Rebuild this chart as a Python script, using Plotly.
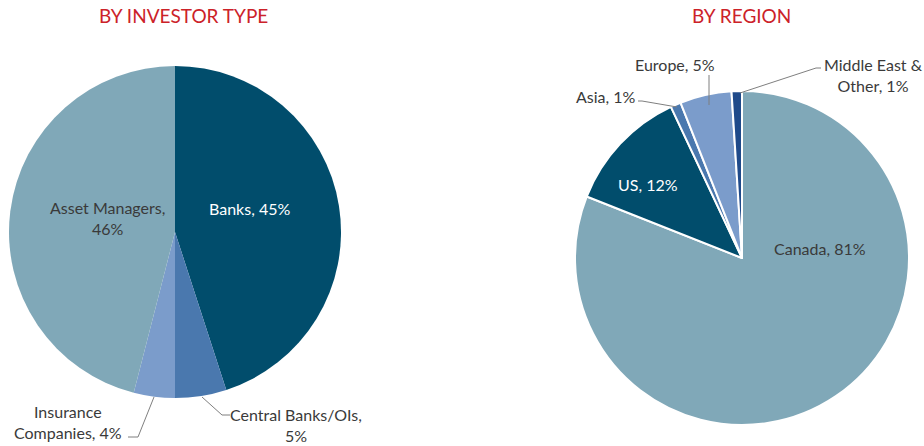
import plotly.graph_objects as go

W, H = 924, 446

inv_labels = ["Banks", "Central Banks/OIs", "Insurance Companies", "Asset Managers"]
inv_values = [45, 5, 4, 46]
inv_colors = ["#014d6c", "#4a78ae", "#7b9ccb", "#80a8b8"]

reg_labels = ["Canada", "US", "Asia", "Europe", "Middle East & Other"]
reg_values = [81, 12, 1, 5, 1]
reg_colors = ["#80a8b8", "#014d6c", "#4a78ae", "#7b9ccb", "#1f4a8a"]

titles = ["BY INVESTOR TYPE", "BY REGION"]

FONT = "Lato"
TXT = "#3a3a3a"


def px(x, y):
    return x / W, 1 - y / H


def dom(cx, cy, r):
    return dict(x=[(cx - r) / W, (cx + r) / W], y=[1 - (cy + r) / H, 1 - (cy - r) / H])


fig = go.Figure()
fig.add_trace(go.Pie(
    labels=inv_labels, values=inv_values, sort=False, direction="clockwise", rotation=0,
    marker=dict(colors=inv_colors, line=dict(width=0)), textinfo="none",
    domain=dom(175, 232, 166), hoverinfo="label+percent", showlegend=False,
))
fig.add_trace(go.Pie(
    labels=reg_labels, values=reg_values, sort=False, direction="clockwise", rotation=0,
    marker=dict(colors=reg_colors, line=dict(width=2, color="white")), textinfo="none",
    domain=dom(742, 258, 167), hoverinfo="label+percent", showlegend=False,
))


def lab(text, x, y, color=TXT, size=16, xanchor="center"):
    ax, ay = px(x, y)
    fig.add_annotation(x=ax, y=ay, xref="paper", yref="paper", text=text, showarrow=False,
                       xanchor=xanchor, yanchor="middle", align="center",
                       font=dict(family=FONT, size=size, color=color))


def pct(v, vals):
    return f"{round(100 * v / sum(vals))}%"


# titles
lab(titles[0], 183, 16, color="#cc2229", size=19)
lab(titles[1], 741, 16, color="#cc2229", size=19)

# left pie labels
lab(f"{inv_labels[3]},<br>{pct(inv_values[3], inv_values)}", 107, 218)
lab(f"{inv_labels[0]}, {pct(inv_values[0], inv_values)}", 249, 208, color="white")
lab("Insurance<br>Companies, " + pct(inv_values[2], inv_values), 68, 422)
lab(f"{inv_labels[1]},<br>{pct(inv_values[1], inv_values)}", 296, 425)

# right pie labels
lab(f"{reg_labels[0]}, {pct(reg_values[0], reg_values)}", 820, 248)
lab(f"{reg_labels[1]}, {pct(reg_values[1], reg_values)}", 648, 184, color="white")
lab(f"{reg_labels[2]}, {pct(reg_values[2], reg_values)}", 606, 97)
lab(f"{reg_labels[3]}, {pct(reg_values[3], reg_values)}", 675, 65)
lab("Middle East &<br>Other, " + pct(reg_values[4], reg_values), 873, 75)


def leader(points):
    path = ""
    for i, (x, y) in enumerate(points):
        X, Y = px(x, y)
        path += ("M" if i == 0 else "L") + f"{X},{Y} "
    fig.add_shape(type="path", xref="paper", yref="paper", path=path.strip(),
                  line=dict(color="#7f7f7f", width=1))


leader([(154, 397), (138, 437), (128, 437)])
leader([(202, 397), (222, 415), (230, 415)])
leader([(638, 101), (642, 101), (677, 107)])
leader([(709, 75), (709, 105)])
leader([(821, 68), (816, 68), (740, 93)])

fig.update_layout(width=W, height=H, margin=dict(l=0, r=0, t=0, b=0),
                  paper_bgcolor="white", plot_bgcolor="white")
fig.write_html("out.html")
